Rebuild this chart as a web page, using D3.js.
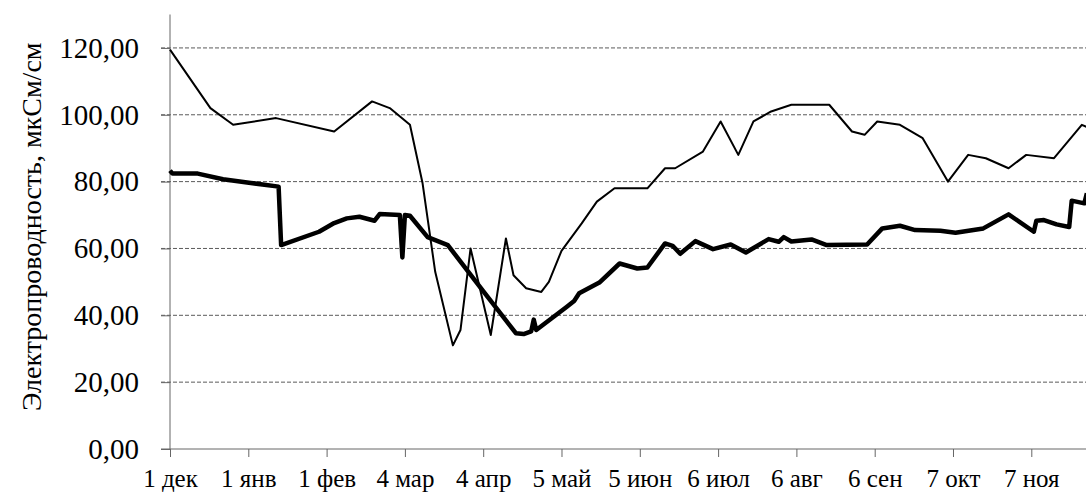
<!DOCTYPE html>
<html>
<head>
<meta charset="utf-8">
<script src="https://cdn.jsdelivr.net/npm/d3@7"></script>
<style>
  body { margin: 0; background: #fff; }
  svg { display: block; }
  svg text { font-family: "Liberation Serif", "Times New Roman", Tinos, "DejaVu Serif", serif !important; fill: #000; }
</style>
</head>
<body>
<svg id="chart" width="1086" height="495"></svg>
<script>
// тонкая линия
const thinDates = ["2010-12-01","2010-12-17","2010-12-26","2011-01-12","2011-02-04","2011-02-19","2011-02-26",
  "2011-03-06","2011-03-11","2011-03-16","2011-03-23","2011-03-26","2011-03-30","2011-04-07","2011-04-13",
  "2011-04-16","2011-04-21","2011-04-27","2011-04-30","2011-05-05","2011-05-13","2011-05-19","2011-05-26",
  "2011-06-08","2011-06-15","2011-06-19","2011-06-30","2011-07-07","2011-07-14","2011-07-20","2011-07-27",
  "2011-08-04","2011-08-19","2011-08-28","2011-09-02","2011-09-07","2011-09-16","2011-09-25","2011-10-05",
  "2011-10-13","2011-10-20","2011-10-29","2011-11-05","2011-11-16","2011-11-27","2011-11-30"];
const thinValues = [119.5,102,97,99,95,104,102,
  97,79.5,53,31,35.6,60,34.1,63,
  52,48.1,47,50,59.3,67.5,74,78,
  78,84,84,89,98,88,98,101,
  103,103,95,94,98,97,93,80,
  88,87,84,88,87,97,96];

// толстая линия
const thickDates = ["2010-12-01","2010-12-02","2010-12-12","2010-12-22","2011-01-02","2011-01-13","2011-01-14",
  "2011-01-29","2011-02-04","2011-02-09","2011-02-14","2011-02-20","2011-02-22","2011-03-02","2011-03-03",
  "2011-03-04","2011-03-06","2011-03-13","2011-03-21","2011-04-04","2011-04-17","2011-04-20","2011-04-23",
  "2011-04-24","2011-04-25","2011-05-07","2011-05-10","2011-05-12","2011-05-20","2011-05-28","2011-06-04",
  "2011-06-08","2011-06-15","2011-06-18","2011-06-21","2011-06-27","2011-07-04","2011-07-11","2011-07-17",
  "2011-07-26","2011-07-30","2011-08-01","2011-08-04","2011-08-12","2011-08-18","2011-09-03","2011-09-09",
  "2011-09-16","2011-09-22","2011-10-02","2011-10-08","2011-10-19","2011-10-29","2011-11-08","2011-11-09",
  "2011-11-12","2011-11-17","2011-11-22","2011-11-23","2011-11-28","2011-11-29"];
const thickValues = [83.3,82.4,82.4,80.7,79.6,78.5,61,
  65,67.6,69,69.5,68.3,70.3,70,57.3,
  70,69.8,63.4,61,47.2,34.6,34.4,35.2,
  38.7,35.6,42.5,44.3,46.6,49.8,55.5,54,
  54.3,61.5,60.8,58.4,62.2,59.8,61.2,58.8,
  62.8,62,63.4,62.1,62.7,61,61.2,66,
  66.8,65.5,65.3,64.7,66,70.2,65,68.3,
  68.5,67.2,66.4,74.3,73.5,76.5];

const tickDates = ["2010-12-01","2011-01-01","2011-02-01","2011-03-04","2011-04-04","2011-05-05",
  "2011-06-05","2011-07-06","2011-08-06","2011-09-06","2011-10-07","2011-11-07"];
const tickLabels = ["1 дек","1 янв","1 фев","4 мар","4 апр","5 май","5 июн","6 июл","6 авг","6 сен","7 окт","7 ноя"];
const yTicks = [0, 20, 40, 60, 80, 100, 120];
const yTitle = "Электропроводность, мкСм/см";

const parse = d3.utcParse("%Y-%m-%d");
const thin = thinDates.map((d, i) => ({ date: parse(d), value: thinValues[i] }));
const thick = thickDates.map((d, i) => ({ date: parse(d), value: thickValues[i] }));

const svg = d3.select("#chart");
const plotLeft = 170, plotBottom = 449, plotTop = 14.5;

const x = d3.scaleUtc()
  .domain([parse("2010-12-01"), parse("2011-12-01")])
  .range([plotLeft, plotLeft + 365 * 2.5258]);

const y = d3.scaleLinear()
  .domain([0, 130])
  .range([plotBottom, plotTop]);

// сетка
svg.append("g")
  .selectAll("line")
  .data(yTicks.filter(v => v > 0))
  .enter().append("line")
  .attr("x1", plotLeft - 9).attr("x2", 1086)
  .attr("y1", d => y(d)).attr("y2", d => y(d))
  .attr("stroke", "#5a5a5a")
  .attr("stroke-width", 1)
  .attr("stroke-dasharray", "4,2");

// ось Y
const yAxis = svg.append("g")
  .attr("transform", `translate(${plotLeft},0)`)
  .call(d3.axisLeft(y).tickValues(yTicks).tickSize(9).tickPadding(22)
    .tickFormat(d => d3.format(".2f")(d).replace(".", ",")));
yAxis.attr("font-family", null).attr("font-size", null);
yAxis.select(".domain").attr("d", `M-9,${plotBottom}H0V${plotTop}`).attr("stroke", "#666");
yAxis.selectAll(".tick line").attr("stroke", "#666");
yAxis.selectAll(".tick text")
  .style("font-size", "29px");

// ось X
const xAxis = svg.append("g")
  .attr("transform", `translate(0,${plotBottom})`)
  .call(d3.axisBottom(x).tickValues(tickDates.map(parse)).tickSize(8).tickPadding(12)
    .tickFormat((d, i) => tickLabels[i]));
xAxis.attr("font-family", null).attr("font-size", null);
xAxis.select(".domain").attr("d", `M${plotLeft},0H1086`).attr("stroke", "#666");
xAxis.selectAll(".tick line").attr("stroke", "#666");
xAxis.selectAll(".tick text")
  .style("font-size", "25px");

// подпись оси
svg.append("text")
  .attr("transform", `translate(41,${(plotTop + plotBottom) / 2 - 5}) rotate(-90)`)
  .attr("text-anchor", "middle")
  .style("font-size", "28px")
  .text(yTitle);

const line = d3.line()
  .x(d => x(d.date))
  .y(d => y(d.value));

svg.append("path")
  .datum(thin)
  .attr("fill", "none")
  .attr("stroke", "#000")
  .attr("stroke-width", 2)
  .attr("stroke-linejoin", "round")
  .attr("d", line);

svg.append("path")
  .datum(thick)
  .attr("fill", "none")
  .attr("stroke", "#000")
  .attr("stroke-width", 4.5)
  .attr("stroke-linejoin", "round")
  .attr("d", line);
</script>
</body>
</html>
